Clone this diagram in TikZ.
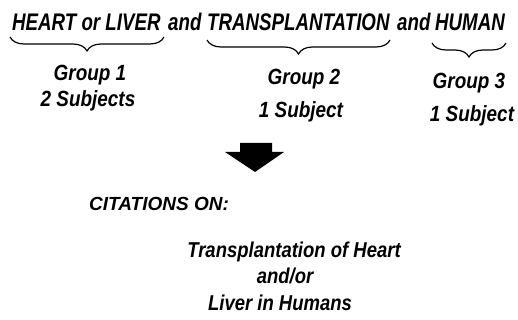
\documentclass[tikz,border=0pt]{standalone}
\usepackage{fontspec}
\setmainfont{Liberation Sans}
\newfontfamily\condfont{Liberation Sans}[FakeStretch=0.78]
\newfontfamily\narrowfont{Liberation Sans}[FakeStretch=0.86]
\usetikzlibrary{decorations.pathreplacing,positioning}

\tikzset{
  topword/.style={inner sep=0pt,anchor=base west,font=\condfont\fontsize{24}{28}\selectfont\bfseries\itshape},
  grouptext/.style={inner sep=0pt,anchor=base,font=\narrowfont\fontsize{22}{26}\selectfont\bfseries\itshape},
  resulttext/.style={inner sep=0pt,font=\narrowfont\fontsize{21.5}{25}\selectfont\bfseries\itshape},
  citetext/.style={inner sep=0pt,font=\fontsize{19}{23}\selectfont\bfseries\itshape},
  curly/.style={decorate,decoration={brace,mirror,amplitude=14pt},line width=1.2pt},
}

\begin{document}
\begin{tikzpicture}[x=1pt,y=-1pt]
  \useasboundingbox (0,0) rectangle (518,320);
  \node[topword] (heart)  at (12,31)  {HEART or LIVER};
  \node[topword] (and1)   at (168,31) {and};
  \node[topword] (transp) at (207,31) {TRANSPLANTATION};
  \node[topword] (and2)   at (397,31) {and};
  \node[topword] (human)  at (435,31) {HUMAN};
  \draw[curly] (10,37) -- (164,37);
  \draw[curly] (207,40) -- (390,40);
  \draw[curly] (432,43) -- (506,43);
  \node[grouptext] (grp1) at (90,81)   {Group 1};
  \node[grouptext] (sub1) at (88,107)  {2 Subjects};
  \node[grouptext] (grp2) at (304,85)  {Group 2};
  \node[grouptext] (sub2) at (301,118) {1 Subject};
  \node[grouptext] (grp3) at (469,89)  {Group 3};
  \node[grouptext] (sub3) at (472,122) {1 Subject};
  \fill (240,143) -- (272,143) -- (272,152) -- (284,152) -- (255,172)
        -- (225,152) -- (240,152) -- cycle;
  \node[citetext,anchor=base west] (cite) at (89,210) {CITATIONS ON:};
  \node[resulttext,anchor=base] (res1) at (294,257) {Transplantation of Heart};
  \node[resulttext,anchor=base] (res2) at (285,283) {and/or};
  \node[resulttext,anchor=base] (res3) at (280,310) {Liver in Humans};
\end{tikzpicture}
\end{document}
